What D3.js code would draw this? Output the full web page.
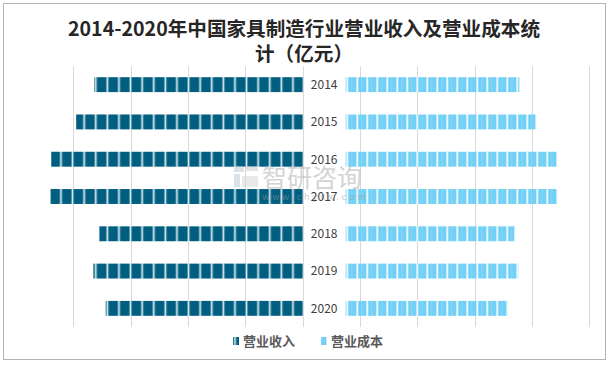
<!DOCTYPE html>
<html><head><meta charset="utf-8">
<script src="https://cdn.jsdelivr.net/npm/d3@7"></script>
<style>body{margin:0;background:#fff}svg{display:block}</style></head>
<body><svg id="c" width="609" height="365"></svg>
<script>
const years = ["2014","2015","2016","2017","2018","2019","2020"];
const revenue = [7270, 7900, 8770, 8800, 7090, 7300, 6870];
const cost = [6060, 6620, 7385, 7390, 5885, 6025, 5665];
const gridTicks = [-8000,-6000,-4000,-2000,0,2000,4000,6000,8000,10000];
const labelGap = 1500;
const titleLines = ["2014-2020年中国家具制造行业营业收入及营业成本统","计（亿元）"];
const seriesNames = ["营业收入","营业成本"];

const svg = d3.select("#c");
const FONT = "'Noto Sans CJK SC','Noto Sans',sans-serif";
const defs = svg.append("defs");

// striped patterns
const pL = defs.append("pattern").attr("id","pl").attr("patternUnits","userSpaceOnUse")
  .attr("width",11.6).attr("height",20).attr("patternTransform","translate(1.5,0)");
pL.append("rect").attr("width",11.6).attr("height",20).attr("fill","#005f80");
pL.append("rect").attr("x",0).attr("width",1).attr("height",20).attr("fill","#5f9bb3");
pL.append("rect").attr("x",1).attr("width",1).attr("height",20).attr("fill","#e4eef2");
pL.append("rect").attr("x",2).attr("width",1).attr("height",20).attr("fill","#5f9bb3");

const pR = defs.append("pattern").attr("id","pr").attr("patternUnits","userSpaceOnUse")
  .attr("width",10).attr("height",20).attr("patternTransform","translate(6.3,0)");
pR.append("rect").attr("width",10).attr("height",20).attr("fill","#72cff6");
pR.append("rect").attr("x",0).attr("width",2).attr("height",20).attr("fill","#e6f6fd");
pR.append("rect").attr("x",5).attr("width",1).attr("height",20).attr("fill","#86d6f7");

// border
svg.append("rect").attr("x",3.5).attr("y",3.5).attr("width",602).attr("height",356)
  .attr("fill","#fff").attr("stroke","#b3b3b3").attr("stroke-width",1);

// title
svg.append("g").selectAll("text").data(titleLines).join("text")
  .attr("x",304).attr("y",(d,i)=>36+i*25).attr("text-anchor","middle")
  .attr("font-family",FONT).attr("font-weight",700).attr("font-size",19.6)
  .attr("fill","#262626").text(d=>d);

const x = d3.scaleLinear().domain([-8000,10000]).range([73.3,589.3]);
const y = d3.scaleBand().domain(years).range([66,327]).paddingInner(0.6).paddingOuter(0.3);

// gridlines
svg.append("g").selectAll("line").data(gridTicks).join("line")
  .attr("x1",d=>Math.round(x(d))+0.5).attr("x2",d=>Math.round(x(d))+0.5)
  .attr("y1",66).attr("y2",327).attr("stroke","#d9d9d9").attr("stroke-width",1);

// left bars (revenue)
svg.append("g").selectAll("rect").data(years).join("rect")
  .attr("x",(d,i)=>x(-revenue[i])).attr("width",(d,i)=>x(0)-x(-revenue[i]))
  .attr("y",d=>y(d)).attr("height",y.bandwidth()).attr("fill","url(#pl)");

// right bars (cost)
svg.append("g").selectAll("rect").data(years).join("rect")
  .attr("x",x(labelGap)).attr("width",(d,i)=>x(labelGap+cost[i])-x(labelGap))
  .attr("y",d=>y(d)).attr("height",y.bandwidth()).attr("fill","url(#pr)");

// watermark (drawn beneath the year labels)
const wm = svg.append("g").attr("opacity",0.5);
wm.append("rect").attr("x",234).attr("y",166).attr("width",10).attr("height",6).attr("fill","#b9c6d6");
wm.append("rect").attr("x",234).attr("y",174).attr("width",6).attr("height",13).attr("fill","#b9c6d6");
wm.append("rect").attr("x",246).attr("y",166).attr("width",12).attr("height",5).attr("fill","#c9c9c9");
wm.append("rect").attr("x",242).attr("y",176).attr("width",16).attr("height",11).attr("fill","#d5d5d5");
wm.append("text").attr("x",262).attr("y",187).attr("font-family",FONT).attr("font-size",25)
  .attr("fill","#aaaaaa").text("智研咨询");
wm.append("text").attr("x",262).attr("y",200).attr("font-family","'DejaVu Sans',sans-serif").attr("font-size",9)
  .attr("letter-spacing",2.6).attr("fill","#9a9a9a").text("www.chyxx.com");

// year labels
svg.append("g").selectAll("text").data(years).join("text")
  .attr("x",(x(0)+x(labelGap))/2).attr("y",d=>y(d)+y.bandwidth()/2)
  .attr("dy","0.36em").attr("text-anchor","middle")
  .attr("font-family",FONT).attr("font-size",12).attr("fill","#404040").text(d=>d);

// legend
const leg = svg.append("g");
const legItems = [{n:seriesNames[0],f:"url(#pl)",mx:233,tx:243},{n:seriesNames[1],f:"url(#pr)",mx:321,tx:331}];
leg.selectAll("rect").data(legItems).join("rect")
  .attr("x",d=>d.mx).attr("y",337).attr("width",6).attr("height",8).attr("fill",d=>d.f);
leg.selectAll("text").data(legItems).join("text")
  .attr("x",d=>d.tx).attr("y",341).attr("dy","0.36em")
  .attr("font-family",FONT).attr("font-weight",700).attr("font-size",13).attr("fill","#595959").text(d=>d.n);
</script></body></html>
